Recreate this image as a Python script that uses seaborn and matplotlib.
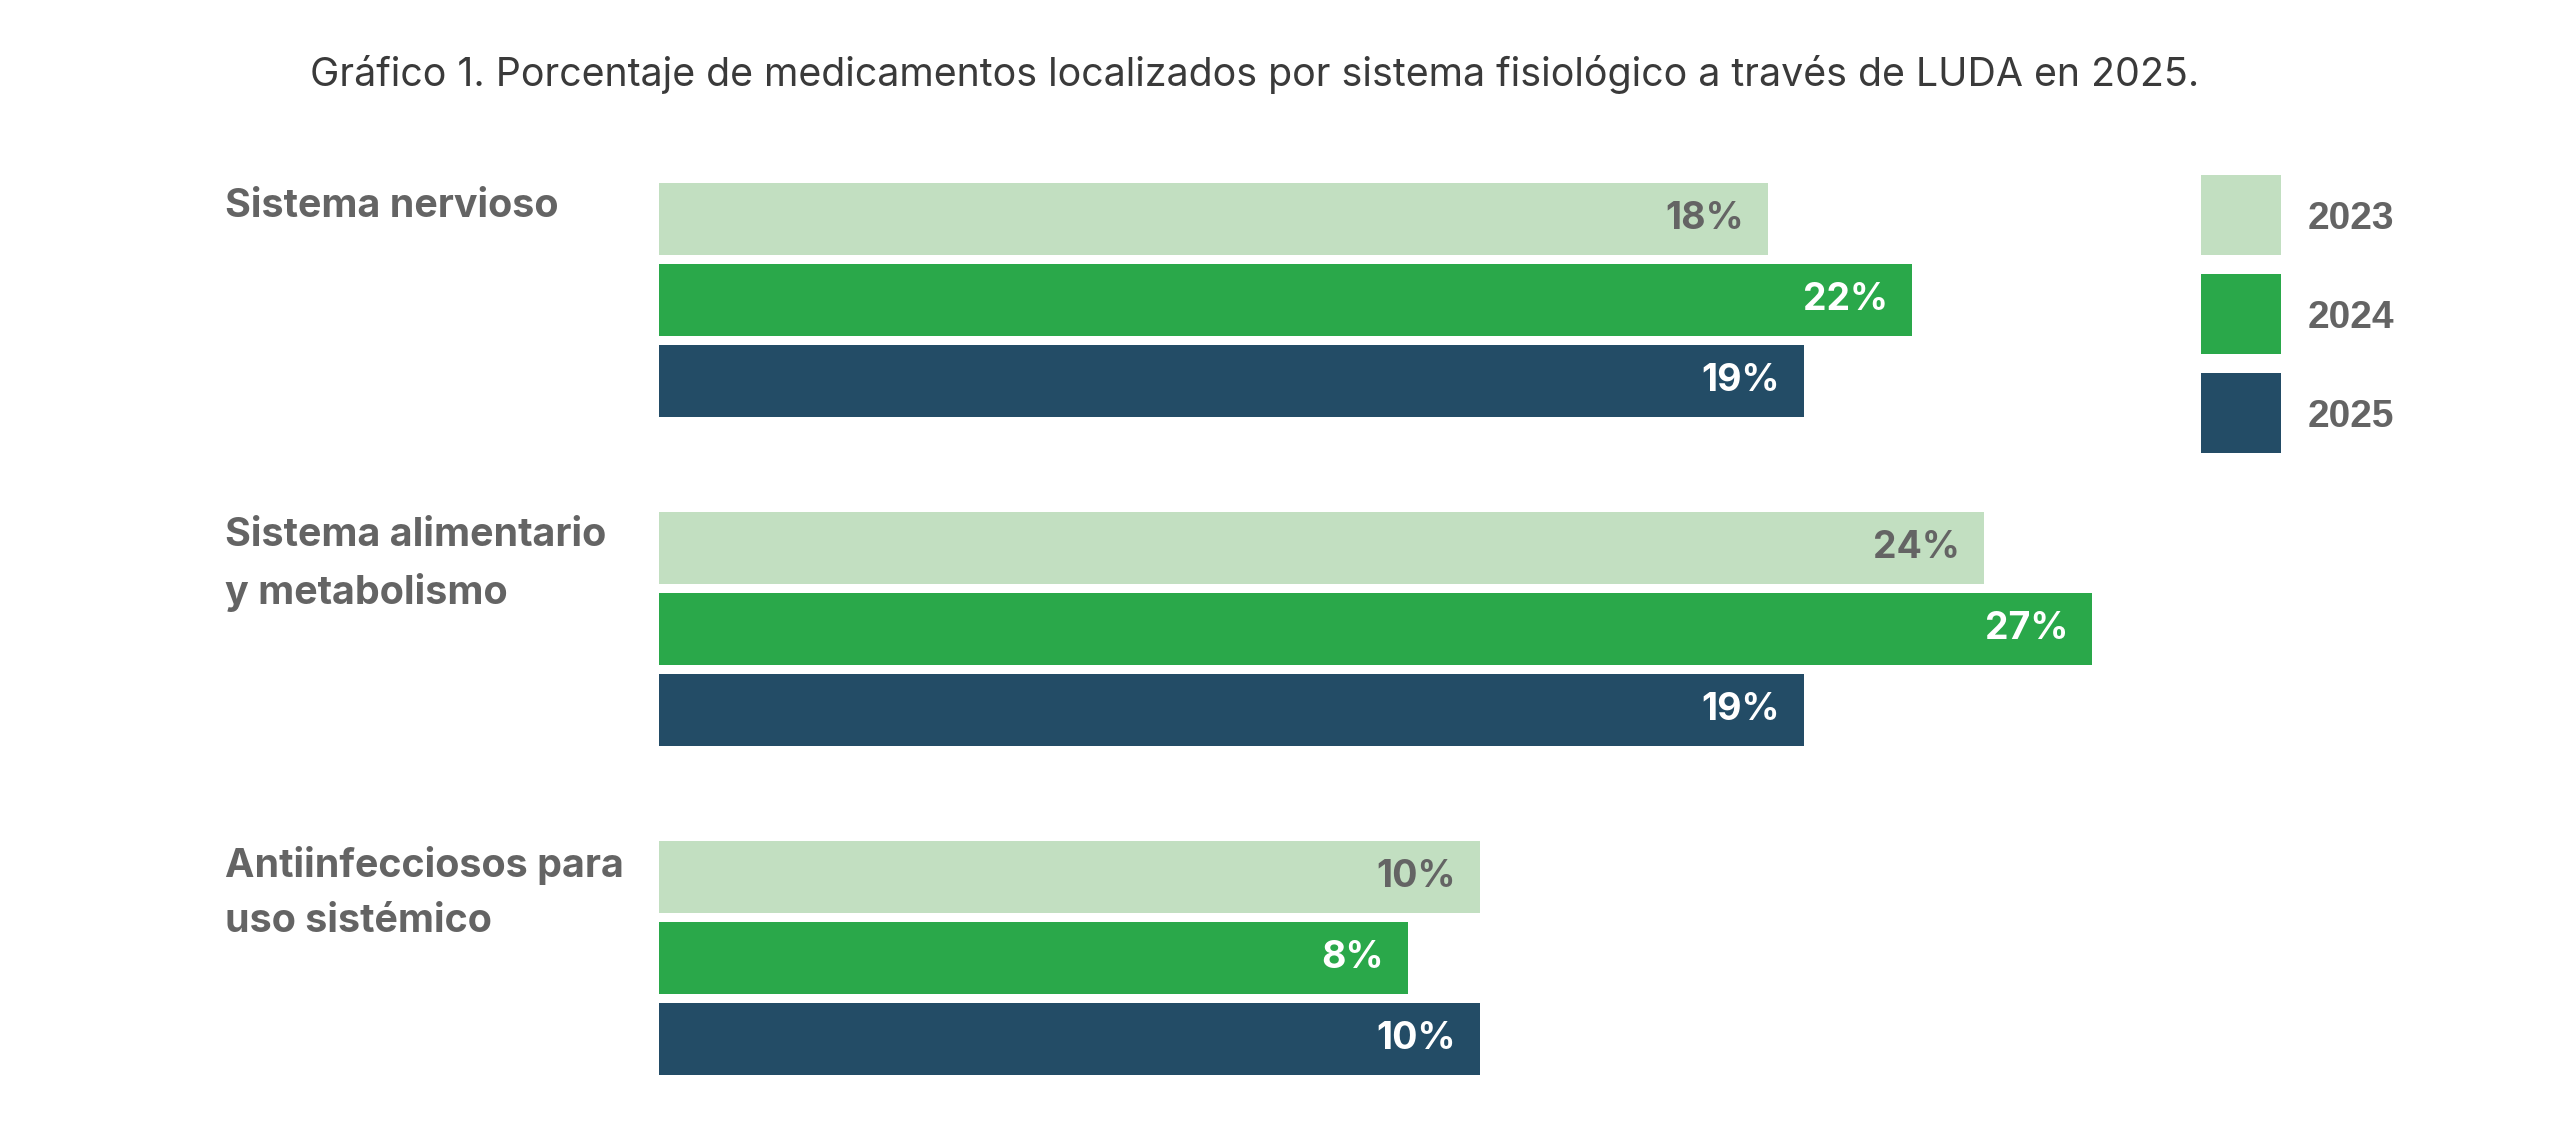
import pandas as pd
import seaborn as sns
import matplotlib.pyplot as plt
from matplotlib.lines import Line2D
from matplotlib import transforms

# datos
sistemas = ['Sistema nervioso', 'Sistema alimentario\ny metabolismo', 'Antiinfecciosos para\nuso sistémico']
anios = ['2023', '2024', '2025']
pct_2023 = [18, 24, 10]
pct_2024 = [22, 27, 8]
pct_2025 = [19, 19, 10]

colores = {'2023': '#c2dfc1', '2024': '#2aa84a', '2025': '#234c66'}
color_valor = {'2023': '#646464', '2024': 'white', '2025': 'white'}
gris = '#646464'

# el eje horizontal del original no empieza en 0
BASE = -12.8

df = pd.DataFrame({
    'sistema': sistemas * 3,
    'anio': ['2023'] * 3 + ['2024'] * 3 + ['2025'] * 3,
    'pct': pct_2023 + pct_2024 + pct_2025,
})

sns.set_style('white')
plt.rcParams['font.family'] = ['Inter', 'DejaVu Sans']

fig = plt.figure(figsize=(25.5, 11.25), dpi=100)
ax = fig.add_axes([659 / 2550, 0.0022, (2150 - 659) / 2550, 0.8773])

sns.barplot(data=df, y='sistema', x='pct', hue='anio', hue_order=anios,
            palette=colores, saturation=1, width=0.74, gap=0.11, linewidth=0,
            orient='h', legend=False, ax=ax)

ax.set_xlim(BASE, BASE + (2150 - 659) / 36.0)
ax.set_ylim(2.5, -0.5)
ax.set_axis_off()

# barras desde la base del eje + etiquetas de valor
for anio, cont in zip(anios, ax.containers):
    for p in cont.patches:
        valor = p.get_x() + p.get_width()
        p.set_x(BASE)
        p.set_width(valor - BASE)
        ax.annotate(f'{valor:.0f}%', xy=(valor, p.get_y() + p.get_height() / 2),
                    xytext=(-17, 0), textcoords='offset points',
                    ha='right', va='center', fontsize=27, fontweight='bold',
                    color=color_valor[anio])

# nombres de cada sistema a la izquierda
trans = transforms.blended_transform_factory(fig.transFigure, ax.transData)
for i, nombre in enumerate(sistemas):
    ax.text(225 / 2550, i - 0.34, nombre, transform=trans, ha='left', va='top',
            fontsize=28.4, fontweight='bold', color=gris, linespacing=1.6,
            clip_on=False)

fig.text(0.492, 1 - 75 / 1125,
         'Gráfico 1. Porcentaje de medicamentos localizados por sistema fisiológico a través de LUDA en 2025.',
         ha='center', va='center', fontsize=28.3, color='#3a3a3a')

handles = [Line2D([], [], marker='s', linestyle='none', markersize=57.6,
                  markerfacecolor=colores[a], markeredgewidth=0) for a in anios]
leg = fig.legend(handles, anios, loc='upper left',
                 bbox_to_anchor=(2201 / 2550, 1 - 201 / 1125),
                 frameon=False, borderpad=0, borderaxespad=0,
                 handlelength=2.06, handleheight=0.7, handletextpad=0.67,
                 labelspacing=1.62,
                 prop={'family': ['Liberation Sans', 'DejaVu Sans'], 'weight': 'bold', 'size': 28})
for t in leg.get_texts():
    t.set_color(gris)

fig.savefig('out.png', dpi=100, facecolor='white')
